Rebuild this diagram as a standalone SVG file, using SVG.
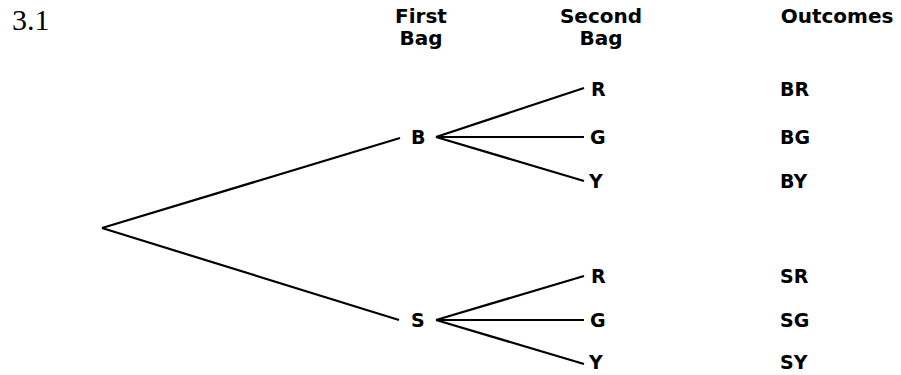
<svg xmlns="http://www.w3.org/2000/svg" width="901" height="375" viewBox="0 0 901 375">
<style>
.t{font-family:"DejaVu Sans","Liberation Sans",sans-serif;font-weight:bold;font-size:19px;fill:#000}
.hd{font-size:20px;text-anchor:middle}
.e{stroke:#000;stroke-width:2.2;fill:none}
</style>
<rect width="901" height="375" fill="#fff"/>
<text x="12" y="30" font-family="Liberation Serif,serif" font-size="30">3.1</text>
<g id="headers">
<text class="t hd" x="421" y="23">First</text>
<text class="t hd" x="421" y="45">Bag</text>
<text class="t hd" x="601" y="23">Second</text>
<text class="t hd" x="601" y="45">Bag</text>
<text class="t hd" x="837" y="23">Outcomes</text>
</g>
<g id="connectors">
<line class="e" x1="102" y1="228" x2="400" y2="138"/>
<line class="e" x1="102" y1="228" x2="399" y2="320"/>
<line class="e" x1="436" y1="137" x2="584" y2="88"/>
<line class="e" x1="436" y1="137" x2="584" y2="137"/>
<line class="e" x1="436" y1="137" x2="584" y2="181"/>
<line class="e" x1="436" y1="320" x2="584" y2="276"/>
<line class="e" x1="436" y1="320" x2="584" y2="320"/>
<line class="e" x1="436" y1="320" x2="584" y2="364"/>
</g>
<g id="nodeB"><text class="t" x="411" y="144">B</text></g>
<g id="nodeS"><text class="t" x="411" y="327">S</text></g>
<g id="nodeBR"><text class="t" x="591" y="96">R</text></g>
<g id="nodeBG"><text class="t" x="590" y="144">G</text></g>
<g id="nodeBY"><text class="t" x="589" y="188">Y</text></g>
<g id="nodeSR"><text class="t" x="591" y="283">R</text></g>
<g id="nodeSG"><text class="t" x="590" y="327">G</text></g>
<g id="nodeSY"><text class="t" x="589" y="369">Y</text></g>
<g id="outcomes">
<text class="t" x="780" y="96">BR</text>
<text class="t" x="780" y="144">BG</text>
<text class="t" x="780" y="188">BY</text>
<text class="t" x="780" y="283">SR</text>
<text class="t" x="780" y="327">SG</text>
<text class="t" x="780" y="369">SY</text>
</g>
</svg>
